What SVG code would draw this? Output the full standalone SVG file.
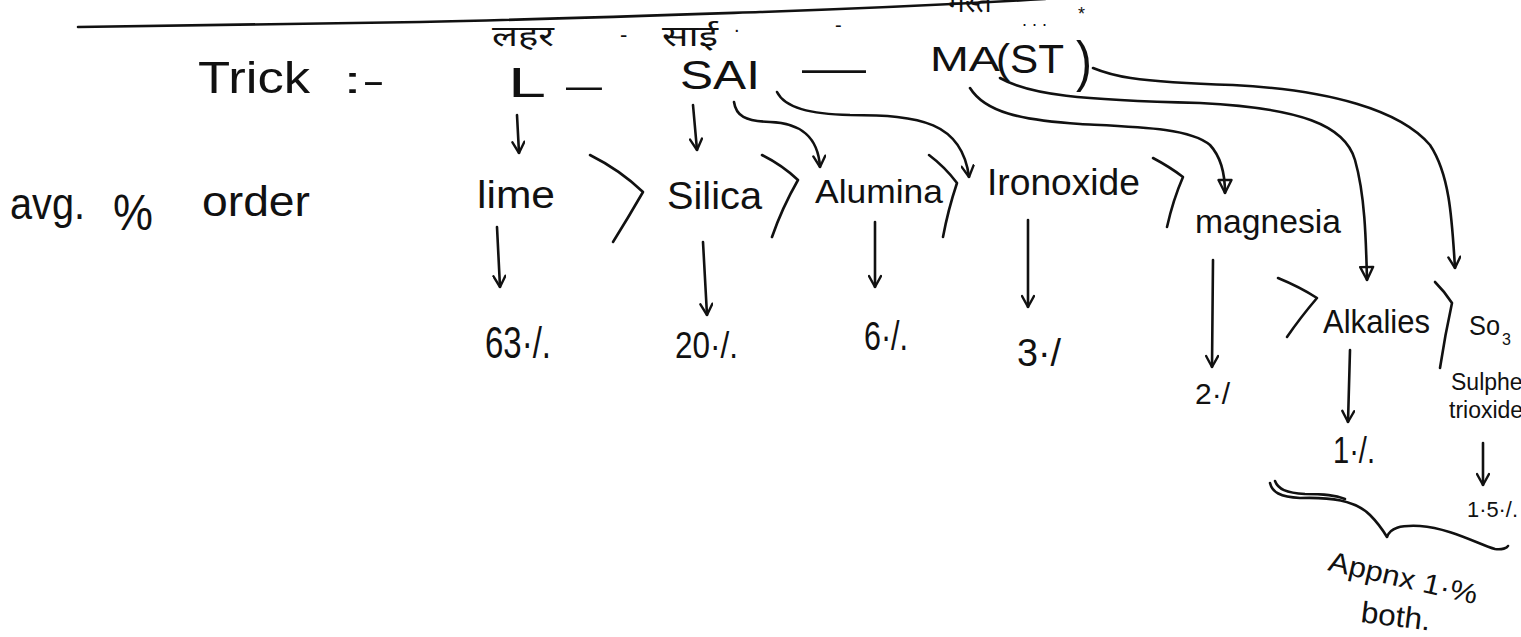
<svg xmlns="http://www.w3.org/2000/svg" width="1521" height="637" viewBox="0 0 1521 637">
<style>
  text { font-family: "Liberation Sans", "DejaVu Sans", sans-serif; fill: #111; }
  .hi { font-family: "Noto Sans Devanagari", "Lohit Devanagari", "FreeSans", "Noto Sans", sans-serif; font-size: 28px; }
  .ln { fill: none; stroke: #111; stroke-width: 2.6; stroke-linecap: round; stroke-linejoin: round; }
  .arr { marker-end: url(#v); }
  .tri { marker-end: url(#t); }
</style>
<defs>
  <marker id="v" viewBox="0 0 14 14" refX="13" refY="7" markerWidth="14" markerHeight="14" markerUnits="userSpaceOnUse" orient="auto">
    <path d="M2,1 L13,7 L2,13" fill="none" stroke="#111" stroke-width="2.4" stroke-linecap="round" stroke-linejoin="round"/>
  </marker>
  <marker id="t" viewBox="0 0 16 16" refX="15" refY="8" markerWidth="16" markerHeight="16" markerUnits="userSpaceOnUse" orient="auto">
    <path d="M2,1.5 L15,8 L2,14.5 Z" fill="none" stroke="#111" stroke-width="2.4" stroke-linejoin="round"/>
  </marker>
</defs>
<rect width="1521" height="637" fill="#ffffff"/>

<!-- top rule and hindi -->
<g id="header">
  <path class="ln" d="M78,27 C200,25 320,24 420,22 C560,19 700,14 760,12 C880,8 960,4 1045,-1"/>
  <text class="hi" x="492" y="46" textLength="62" lengthAdjust="spacingAndGlyphs">लहर</text>
  <text x="620" y="42" font-size="22">-</text>
  <text class="hi" x="662" y="46" textLength="56" lengthAdjust="spacingAndGlyphs">साई</text>
  <text x="734" y="32" font-size="20">.</text>
  <text x="835" y="32" font-size="20">-</text>
  <text class="hi" x="948" y="12">मस्त</text>
  <text x="1022" y="26" font-size="18">. . .</text>
  <text x="1078" y="20" font-size="18">*</text>
</g>

<g id="trick">
  <text x="198" y="93" font-size="44" textLength="112" lengthAdjust="spacingAndGlyphs">Trick</text>
  <text x="343" y="93" font-size="36" textLength="42" lengthAdjust="spacingAndGlyphs">:-</text>
</g>

<g id="mnemonic">
  <text id="m-L" x="508" y="97" font-size="42" textLength="38" lengthAdjust="spacingAndGlyphs">L</text>
  <text x="566" y="98" font-size="36" textLength="36" lengthAdjust="spacingAndGlyphs">–</text>
  <text id="m-SAI" x="680" y="89" font-size="40" textLength="80" lengthAdjust="spacingAndGlyphs">SAI</text>
  <text x="802" y="82" font-size="40" textLength="64" lengthAdjust="spacingAndGlyphs">—</text>
  <text id="m-MA" x="930" y="71" font-size="35" textLength="70" lengthAdjust="spacingAndGlyphs">MA</text>
  <text id="m-ST" x="996" y="73" font-size="40" textLength="68" lengthAdjust="spacingAndGlyphs">(ST</text>
  <text x="1076" y="80" font-size="56" textLength="16" lengthAdjust="spacingAndGlyphs">)</text>
</g>

<g id="avg-label">
  <text x="10" y="219" font-size="44" textLength="75" lengthAdjust="spacingAndGlyphs">avg.</text>
  <text x="113" y="230" font-size="50" textLength="40" lengthAdjust="spacingAndGlyphs">%</text>
  <text x="202" y="216" font-size="42" textLength="108" lengthAdjust="spacingAndGlyphs">order</text>
</g>

<g id="lime"><text x="477" y="208" font-size="38" textLength="78" lengthAdjust="spacingAndGlyphs">lime</text></g>
<g id="silica"><text x="667" y="209" font-size="38" textLength="95" lengthAdjust="spacingAndGlyphs">Silica</text></g>
<g id="alumina"><text x="815" y="203" font-size="34" textLength="128" lengthAdjust="spacingAndGlyphs">Alumina</text></g>
<g id="ironoxide"><text x="987" y="195" font-size="36" textLength="153" lengthAdjust="spacingAndGlyphs">Ironoxide</text></g>
<g id="magnesia"><text x="1195" y="233" font-size="34" textLength="146" lengthAdjust="spacingAndGlyphs">magnesia</text></g>
<g id="alkalies"><text x="1323" y="333" font-size="34" textLength="107" lengthAdjust="spacingAndGlyphs">Alkalies</text></g>
<g id="so3">
  <text x="1469" y="335" font-size="28" textLength="31" lengthAdjust="spacingAndGlyphs">So</text>
  <text x="1502" y="345" font-size="16">3</text>
  <text x="1451" y="390" font-size="23">Sulpher</text>
  <text x="1449" y="418" font-size="23">trioxide</text>
</g>

<g id="values">
  <text x="485" y="358" font-size="44" textLength="66" lengthAdjust="spacingAndGlyphs">63·/.</text>
  <text x="675" y="358" font-size="36" textLength="63" lengthAdjust="spacingAndGlyphs">20·/.</text>
  <text x="864" y="350" font-size="40" textLength="44" lengthAdjust="spacingAndGlyphs">6·/.</text>
  <text x="1017" y="366" font-size="38" textLength="44" lengthAdjust="spacingAndGlyphs">3·/</text>
  <text x="1195" y="404" font-size="30" textLength="35" lengthAdjust="spacingAndGlyphs">2·/</text>
  <text x="1333" y="463" font-size="36" textLength="42" lengthAdjust="spacingAndGlyphs">1·/.</text>
  <text x="1467" y="517" font-size="22" textLength="51" lengthAdjust="spacingAndGlyphs">1·5·/.</text>
</g>

<g id="approx">
  <text x="1327" y="570" font-size="28" transform="rotate(13 1327 570)" textLength="152" lengthAdjust="spacingAndGlyphs">Appnx 1·%</text>
  <text x="1360" y="622" font-size="30" transform="rotate(7 1360 622)" textLength="70" lengthAdjust="spacingAndGlyphs">both.</text>
</g>

<g id="connectors">
  <!-- mnemonic to components -->
  <path class="ln arr" d="M517,115 L519,153"/>
  <path class="ln arr" d="M693,105 L697,150"/>
  <path class="ln arr" d="M734,102 C736,116 745,121 770,122 C800,123 818,136 820,167"/>
  <path class="ln arr" d="M777,92 C785,108 810,114 850,115 C920,115 962,122 969,177"/>
  <path class="ln tri" d="M970,88 C985,112 1020,120 1080,124 C1140,127 1190,128 1210,145 C1222,158 1225,175 1225,193"/>
  <path class="ln tri" d="M1000,78 C1030,95 1080,100 1200,103 C1300,108 1345,125 1355,160 C1365,195 1366,240 1367,280"/>
  <path class="ln arr" d="M1093,68 C1110,75 1130,82 1233,85 C1330,90 1400,110 1430,145 C1450,175 1452,220 1455,268"/>
  <!-- greater-than chevrons -->
  <path class="ln" d="M590,155 Q620,170 643,192 Q628,218 613,242"/>
  <path class="ln" d="M762,155 Q782,165 798,180 Q782,208 772,237"/>
  <path class="ln" d="M929,155 Q945,167 957,183 Q948,210 943,237"/>
  <path class="ln" d="M1153,158 Q1170,167 1183,177 Q1173,200 1167,227"/>
  <path class="ln" d="M1278,278 Q1300,287 1317,298 Q1300,318 1287,337"/>
  <path class="ln" d="M1435,282 Q1445,292 1452,303 Q1445,335 1440,368"/>
  <!-- components to values -->
  <path class="ln arr" d="M497,227 L500,287"/>
  <path class="ln arr" d="M703,242 L707,315"/>
  <path class="ln arr" d="M875,222 L875,287"/>
  <path class="ln arr" d="M1028,220 L1028,307"/>
  <path class="ln arr" d="M1213,260 L1212,367"/>
  <path class="ln arr" d="M1350,350 L1348,422"/>
  <path class="ln arr" d="M1483,443 L1483,485"/>
  <!-- brace -->
  <path class="ln" d="M1270,483 C1272,492 1280,497 1300,498 C1330,497 1355,500 1370,515 C1378,523 1384,532 1387,537 C1390,528 1400,525 1420,526 C1450,528 1480,545 1495,549 C1502,550 1507,548 1508,546"/>
  <path class="ln" d="M1275,481 C1278,489 1286,493 1305,494 C1325,494 1335,495 1345,499"/>
</g>
</svg>
